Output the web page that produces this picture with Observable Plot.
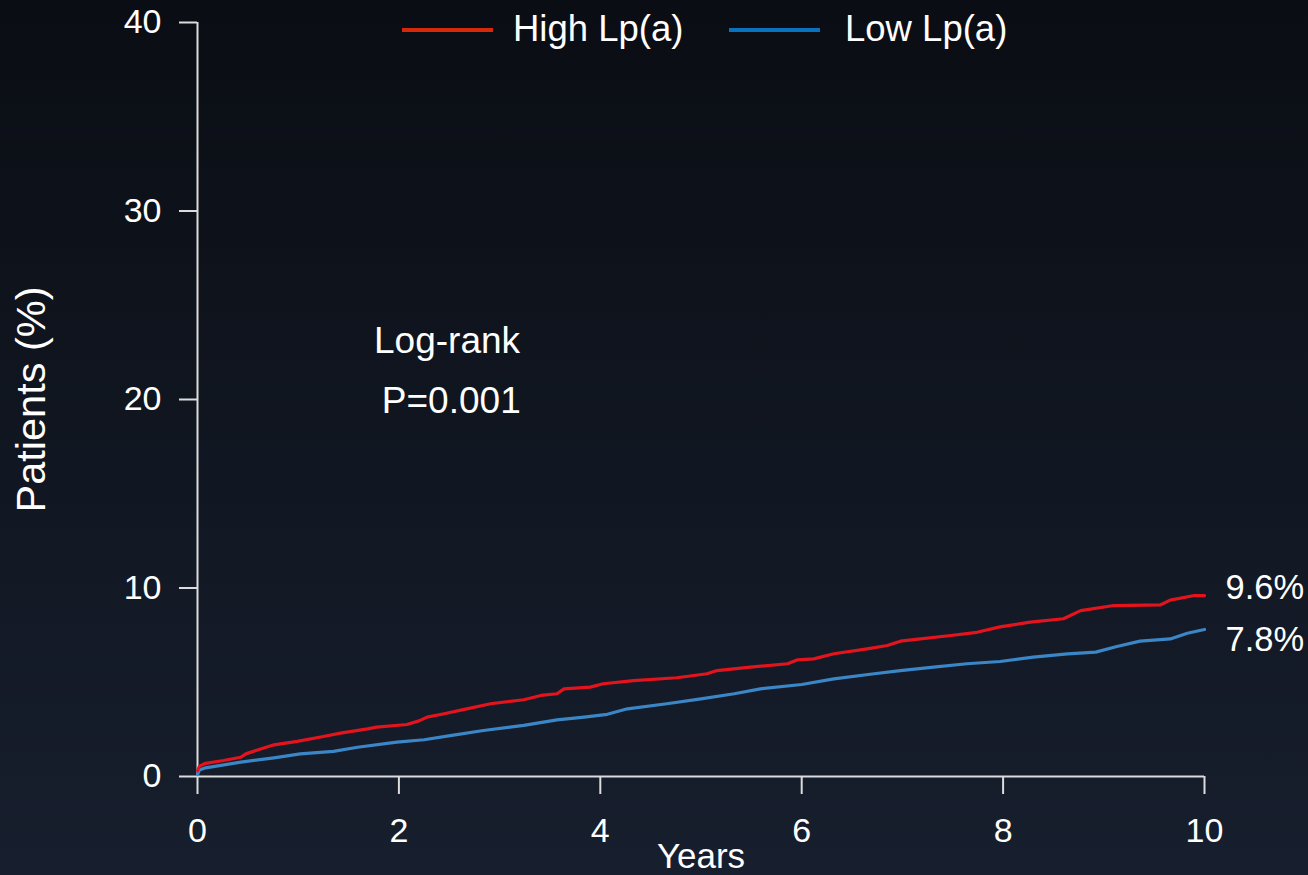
<!DOCTYPE html>
<html>
<head>
<meta charset="utf-8">
<script src="https://cdn.jsdelivr.net/npm/d3@7"></script>
<script src="https://cdn.jsdelivr.net/npm/@observablehq/plot@0.6"></script>
<style>
  html, body { margin: 0; padding: 0; }
  body {
    width: 1308px; height: 875px; overflow: hidden; position: relative;
    background: linear-gradient(to bottom, #0a0d13 0%, #111722 55%, #171e2d 100%);
    font-family: "Liberation Sans", Arial, Helvetica, sans-serif;
  }
  #chart { position: absolute; left: 0; top: 0; }
  .legend { position: absolute; top: 0; left: 0; width: 1308px; height: 60px; }
  .legend .swatch { position: absolute; top: 28px; width: 91px; height: 4px; }
  .legend .name { position: absolute; top: 11px; font-size: 36.5px; line-height: 36px; color: #fff; white-space: nowrap; }
</style>
</head>
<body>
<div id="chart"></div>
<div class="legend" id="legend"></div>
<script>
// Axis ticks
const xTicks = [0, 2, 4, 6, 8, 10];
const yTicks = [0, 10, 20, 30, 40];

// Cumulative incidence (%) by follow-up year, high Lp(a) group
const highYears = [0, 0.02, 0.08, 0.26, 0.43, 0.48, 0.62, 0.76, 0.99, 1.25, 1.42, 1.69, 1.78, 2.08, 2.2, 2.28, 2.45, 2.64, 2.91, 3.24, 3.41, 3.57, 3.64, 3.9, 4.03, 4.33, 4.76, 5.06, 5.16, 5.49, 5.86, 5.96, 6.12, 6.32, 6.65, 6.85, 6.98, 7.18, 7.48, 7.74, 7.97, 8.27, 8.6, 8.77, 9.1, 9.56, 9.66, 9.9, 10];
const highPct   = [0.3, 0.55, 0.7, 0.85, 1.02, 1.2, 1.45, 1.68, 1.86, 2.12, 2.3, 2.53, 2.62, 2.76, 2.95, 3.15, 3.33, 3.55, 3.86, 4.07, 4.3, 4.39, 4.65, 4.74, 4.92, 5.09, 5.24, 5.45, 5.62, 5.8, 5.98, 6.19, 6.24, 6.51, 6.77, 6.95, 7.18, 7.3, 7.48, 7.65, 7.94, 8.19, 8.37, 8.8, 9.07, 9.1, 9.36, 9.6, 9.6];

// Cumulative incidence (%) by follow-up year, low Lp(a) group
const lowYears = [0, 0.02, 0.08, 0.43, 0.76, 1.02, 1.35, 1.59, 1.98, 2.25, 2.51, 2.84, 3.24, 3.57, 3.84, 4.07, 4.27, 4.66, 5.0, 5.33, 5.59, 6.0, 6.32, 6.72, 6.98, 7.31, 7.64, 7.97, 8.3, 8.64, 8.92, 9.13, 9.36, 9.66, 9.83, 10];
const lowPct   = [0.1, 0.35, 0.46, 0.76, 0.99, 1.2, 1.33, 1.55, 1.82, 1.95, 2.17, 2.44, 2.71, 3.0, 3.15, 3.3, 3.59, 3.86, 4.12, 4.39, 4.65, 4.88, 5.18, 5.45, 5.62, 5.8, 5.98, 6.1, 6.33, 6.51, 6.6, 6.9, 7.18, 7.3, 7.6, 7.8];

const seriesNames = ["High Lp(a)", "Low Lp(a)"];
const testLines = ["Log-rank", "P=0.001"];
const xTitle = "Years";
const yTitle = "Patients (%)";

const lineColors = ["#e3141d", "#3a86c6"];
const legendColors = ["#d6290b", "#0a71bf"];
const axisColor = "#dcdcdc";
const font = "'Liberation Sans', Arial, Helvetica, sans-serif";

const high = highYears.map((t, i) => ({t, p: highPct[i]}));
const low = lowYears.map((t, i) => ({t, p: lowPct[i]}));
const highEnd = high[high.length - 1];
const lowEnd = low[low.length - 1];
const pctLabel = d => `${d.p.toFixed(1)}%`;

const chart = Plot.plot({
  width: 1308,
  height: 875,
  marginLeft: 197,
  marginRight: 104,
  marginTop: 22,
  marginBottom: 99,
  style: {background: "transparent", color: "#ffffff", fontFamily: font, overflow: "visible"},
  x: {domain: [0, 10]},
  y: {domain: [0, 40]},
  marks: [
    Plot.ruleX([0], {stroke: axisColor, strokeWidth: 2}),
    Plot.ruleY([0], {stroke: axisColor, strokeWidth: 2}),
    Plot.axisX({ticks: xTicks, tickSize: 18, tickPadding: 23, label: null, stroke: axisColor, strokeWidth: 2, fill: "#ffffff", fontSize: 34, fontFamily: font}),
    Plot.axisY({ticks: yTicks, tickSize: 18, tickPadding: 18, label: null, stroke: axisColor, strokeWidth: 2, fill: "#ffffff", fontSize: 34, fontFamily: font}),
    Plot.line(low, {x: "t", y: "p", stroke: lineColors[1], strokeWidth: 3.2}),
    Plot.line(high, {x: "t", y: "p", stroke: lineColors[0], strokeWidth: 3.2}),
    Plot.text([highEnd], {x: "t", y: "p", text: pctLabel, textAnchor: "start", dx: 21, dy: -8, fill: "#ffffff", fontSize: 34.5}),
    Plot.text([lowEnd], {x: "t", y: "p", text: pctLabel, textAnchor: "start", dx: 21, dy: 10, fill: "#ffffff", fontSize: 34.5}),
    Plot.text([testLines[0]], {x: 2.478, y: 23.1, fill: "#ffffff", fontSize: 37}),
    Plot.text([testLines[1]], {x: 2.52, y: 19.9, fill: "#ffffff", fontSize: 37}),
    Plot.text([xTitle], {frameAnchor: "bottom", lineAnchor: "top", dy: 67, fill: "#ffffff", fontSize: 35}),
    Plot.text([yTitle], {frameAnchor: "left", textAnchor: "middle", rotate: -90, dx: -166, fill: "#ffffff", fontSize: 41.5})
  ]
});
document.getElementById("chart").appendChild(chart);

// Legend row across the top of the plot
const legend = document.getElementById("legend");
const legendSlots = [{swatch: 402, text: 513}, {swatch: 729, text: 845}];
seriesNames.forEach((name, i) => {
  const sw = document.createElement("div");
  sw.className = "swatch";
  sw.style.left = legendSlots[i].swatch + "px";
  sw.style.background = legendColors[i];
  legend.appendChild(sw);
  const tx = document.createElement("div");
  tx.className = "name";
  tx.style.left = legendSlots[i].text + "px";
  tx.textContent = name;
  legend.appendChild(tx);
});
</script>
</body>
</html>
